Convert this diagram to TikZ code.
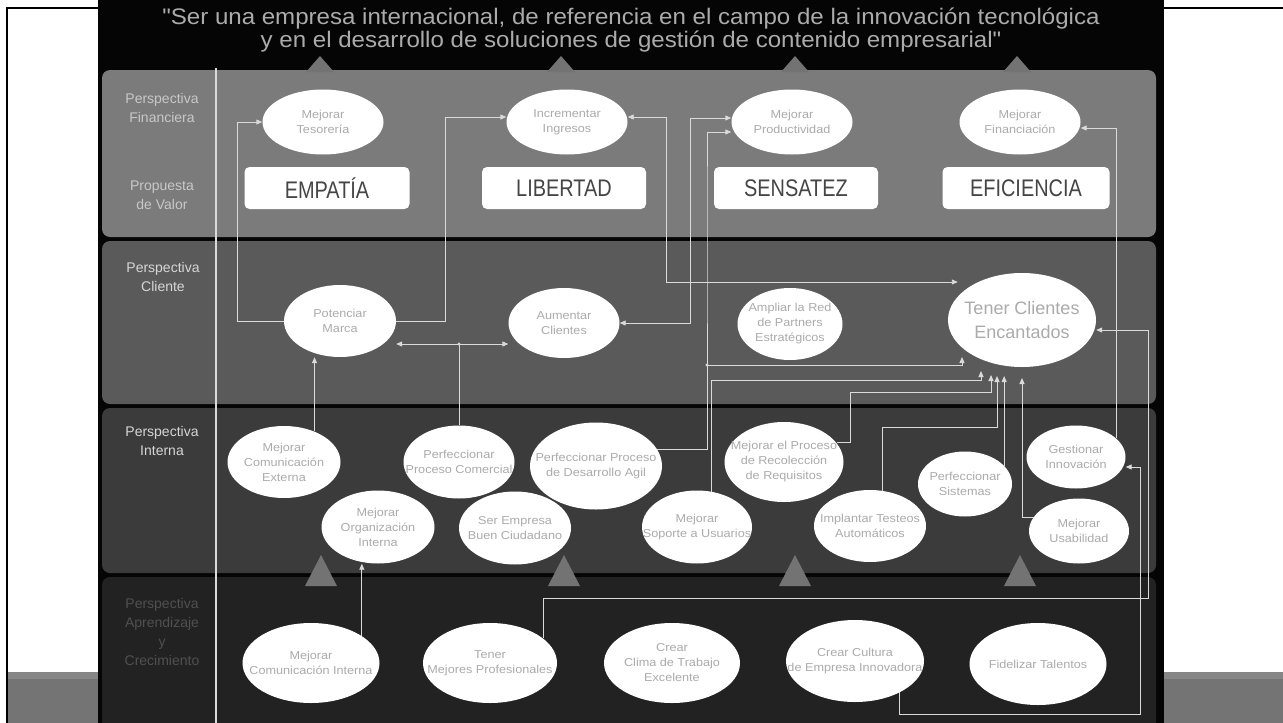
\documentclass[tikz,border=0pt]{standalone}
\usepackage{fontspec}
\setmainfont{Liberation Sans}
\newfontfamily\visionfont[FakeStretch=1.07]{Liberation Sans}
\newfontfamily\valuefont[FakeStretch=0.83]{Liberation Sans}
\newfontfamily\bubblefont[FakeStretch=1.1]{Liberation Sans}
\usetikzlibrary{shapes.geometric,arrows.meta}

\definecolor{panel}{HTML}{050505}
\definecolor{bandA}{HTML}{7B7B7B}
\definecolor{bandB}{HTML}{5A5A5A}
\definecolor{bandC}{HTML}{3B3B3B}
\definecolor{bandD}{HTML}{222222}
\definecolor{visiongray}{HTML}{ABABAB}
\definecolor{bubbletext}{HTML}{ABABAB}
\definecolor{valuetext}{HTML}{454545}
\definecolor{wirecol}{HTML}{DADADA}
\definecolor{tricol}{HTML}{737373}
\definecolor{strip}{HTML}{747474}
\definecolor{stripTop}{HTML}{868686}
\definecolor{lblA}{HTML}{C8C8C8}
\definecolor{lblB}{HTML}{D6D6D6}
\definecolor{lblD}{HTML}{505050}

\begin{document}
\begin{tikzpicture}[x=1pt,y=-1pt,
  bubble/.style={ellipse, fill=white, inner xsep=-26pt, inner ysep=-8pt, align=center,
    text=bubbletext, font=\bubblefont\fontsize{11.5}{15}\selectfont},
  valuebox/.style={rectangle, rounded corners=5pt, fill=white, minimum height=42pt,
    text=valuetext, font=\valuefont\fontsize{24}{28}\selectfont},
  lane/.style={align=center, font=\fontsize{14}{19}\selectfont},
  wire/.style={draw=wirecol, line width=0.9pt},
  arr/.style={wire, -{Triangle[length=6pt,width=5pt]}},
  biarr/.style={wire, {Triangle[length=6pt,width=5pt]}-{Triangle[length=6pt,width=5pt]}},
  peak/.style={fill=tricol}]

\useasboundingbox (0,0) rectangle (1283,723);
\fill[white] (0,0) rectangle (1283,723);

% page frame and bottom strips
\fill[strip] (8,672) rectangle (98,723);
\fill[stripTop] (8,672) rectangle (98,679);
\fill[strip] (1164,672) rectangle (1283,723);
\fill[stripTop] (1164,672) rectangle (1283,679);
\draw[black, line width=2pt] (7,723) -- (7,8) -- (1283,8);

% black panel with the four perspective bands
\fill[panel] (98,0) rectangle (1164,723);
\fill[bandA, rounded corners=8pt] (102,70) rectangle (1156,237);
\fill[bandB, rounded corners=8pt] (102,241) rectangle (1156,404);
\fill[bandC, rounded corners=8pt] (102,408) rectangle (1156,573);
\fill[bandD, rounded corners=8pt] (102,577) rectangle (1156,740);

% column separator
\draw[draw=wirecol, line width=1.6pt] (216,68) -- (216,723);

% vision statement
\node[align=center, text=visiongray, inner sep=0pt,
  font=\visionfont\fontsize{22.5}{20}\selectfont] (vision) at (631,30)
  {"Ser una empresa internacional, de referencia en el campo de la innovación tecnológica\\
   y en el desarrollo de soluciones de gestión de contenido empresarial"};

% triangles towards the vision
\foreach \x in {320,561,795,1017}
  \fill[peak] (\x,56) -- (\x-14,72) -- (\x+14,72) -- cycle;

% triangles from learning to internal
\foreach \x in {321,564,795,1020}
  \fill[peak] (\x,555) -- (\x-16,586) -- (\x+16,586) -- cycle;

% lane titles
\node[lane, text=lblA] (lfin) at (162,108) {Perspectiva\\Financiera};
\node[lane, text=lblA] (lval) at (162,195) {Propuesta\\de Valor};
\node[lane, text=lblB] (lcli) at (163,277) {Perspectiva\\Cliente};
\node[lane, text=lblB] (lint) at (162,441) {Perspectiva\\Interna};
\node[lane, text=lblD] (lapr) at (162,632) {Perspectiva\\Aprendizaje\\y\\Crecimiento};

% value proposition
\node[valuebox, minimum width=165pt] (emp) at (327,188) {EMPATÍA};
\node[valuebox, minimum width=164pt] (lib) at (564,188) {LIBERTAD};
\node[valuebox, minimum width=164pt] (sen) at (796,188) {SENSATEZ};
\node[valuebox, minimum width=167pt] (efi) at (1026,188) {EFICIENCIA};

% financial objectives
\node[bubble, minimum width=121pt, minimum height=65pt] (tes) at (323,122) {Mejorar\\Tesorería};
\node[bubble, minimum width=121pt, minimum height=65pt] (ing) at (567,122) {Incrementar\\Ingresos};
\node[bubble, minimum width=121pt, minimum height=65pt] (pro) at (792,122) {Mejorar\\Productividad};
\node[bubble, minimum width=121pt, minimum height=65pt] (fin) at (1020,122) {Mejorar\\Financiación};

% customer objectives
\node[bubble, minimum width=112pt, minimum height=72pt] (mar) at (340,321) {Potenciar\\Marca};
\node[bubble, minimum width=111pt, minimum height=70pt] (cli) at (564,323) {Aumentar\\Clientes};
\node[bubble, minimum width=105pt, minimum height=72pt] (red) at (790,324) {Ampliar la Red\\de Partners\\Estratégicos};
\node[bubble, minimum width=148pt, minimum height=94pt, font=\fontsize{18}{24}\selectfont]
  (tce) at (1022,320) {Tener Clientes\\Encantados};

% internal process objectives
\node[bubble, minimum width=113pt, minimum height=72pt] (cex) at (284,462) {Mejorar\\Comunicación\\Externa};
\node[bubble, minimum width=113pt, minimum height=73pt] (org) at (378,527) {Mejorar\\Organización\\Interna};
\node[bubble, minimum width=111pt, minimum height=73pt] (com) at (459,462) {Perfeccionar\\Proceso Comercial};
\node[bubble, minimum width=112pt, minimum height=73pt] (ciu) at (515,528) {Ser Empresa\\Buen Ciudadano};
\node[bubble, minimum width=132pt, minimum height=87pt] (agi) at (596,466) {Perfeccionar Proceso\\de Desarrollo Agil};
\node[bubble, minimum width=110pt, minimum height=73pt] (sop) at (697,527) {Mejorar\\Soporte a Usuarios};
\node[bubble, minimum width=119pt, minimum height=80pt] (req) at (784,462) {Mejorar el Proceso\\de Recolección\\de Requisitos};
\node[bubble, minimum width=112pt, minimum height=72pt] (aut) at (870,526) {Implantar Testeos\\Automáticos};
\node[bubble, minimum width=94pt, minimum height=65pt] (sis) at (965,484) {Perfeccionar\\Sistemas};
\node[bubble, minimum width=99pt, minimum height=63pt] (inn) at (1076,457) {Gestionar\\Innovación};
\node[bubble, minimum width=100pt, minimum height=65pt] (usa) at (1079,531) {Mejorar\\Usabilidad};

% learning and growth objectives
\node[bubble, minimum width=137pt, minimum height=80pt] (cin) at (311,663) {Mejorar\\Comunicación Interna};
\node[bubble, minimum width=134pt, minimum height=80pt] (mpr) at (490,663) {Tener\\Mejores Profesionales};
\node[bubble, minimum width=136pt, minimum height=80pt] (cla) at (672,663) {Crear\\Clima de Trabajo\\Excelente};
\node[bubble, minimum width=138pt, minimum height=82pt] (cul) at (855,661) {Crear Cultura\\de Empresa Innovadora};
\node[bubble, minimum width=137pt, minimum height=82pt] (fid) at (1038,664) {Fidelizar Talentos};

% arrow ends gathered under "Tener Clientes Encantados"
\coordinate (tin1) at ([shift={(-60,37)}]tce.center);
\coordinate (tin2) at ([shift={(-41,51)}]tce.center);
\coordinate (tin3) at ([shift={(-31,55)}]tce.center);
\coordinate (tin4) at ([shift={(-25,56)}]tce.center);
\coordinate (tin5) at ([shift={(-18,56)}]tce.center);
\coordinate (tin6) at ([shift={(0,58)}]tce.center);

% customer -> financial
\draw[arr] (mar.west) -- ++(-46,0) |- (tes.west);
\draw[arr] (mar.east) -- ++(49,0) |- (ing.west |- 0,117);
\draw[biarr] (ing.east |- 0,117) -- (666,117) |- ([xshift=10pt]tce.west |- 0,282);
\draw[biarr] (cli.east) -- (690,323) |- (pro.west |- 0,118);

% internal -> customer / financial
\draw[arr] (agi.15) -| (707,200) |- (pro.west |- 0,132);
\coordinate (j1) at (707,365);
\draw[arr] (j1) -| (tin1);
\fill[wirecol] (j1) circle (1.6);
\draw[arr] (sop.68) |- (tin2 |- 0,380) -- (tin2);
\draw[arr] (req.20) -| (850,392) -| (tin3);
\draw[arr] (aut.70) |- (tin4 |- 0,427) -- (tin4);
\draw[arr] (sis.25) -- (sis.25 |- tin5);
\draw[arr] (usa.163) -| (tin6);
\draw[arr] (inn.25) |- (fin.east |- 0,128);
\draw[arr] (cex.45) -- (cex.45 |- mar.south);
\coordinate (j2) at (com.north |- 0,344);
\draw[wire] (com.north) -- (j2);
\draw[arr] (j2) -- (mar.east |- j2);
\draw[arr] (j2) -- (cli.west |- j2);
\fill[wirecol] (j2) circle (1.6);

% learning -> internal / customer
\draw[arr] (cin.28) -- (cin.28 |- org.south);
\draw[arr] (cul.325) |- (1140,714) |- (inn.east |- 0,467);
\draw[arr] (mpr.25) |- (1148,598) |- (tce.east |- 0,330);

\end{tikzpicture}
\end{document}
